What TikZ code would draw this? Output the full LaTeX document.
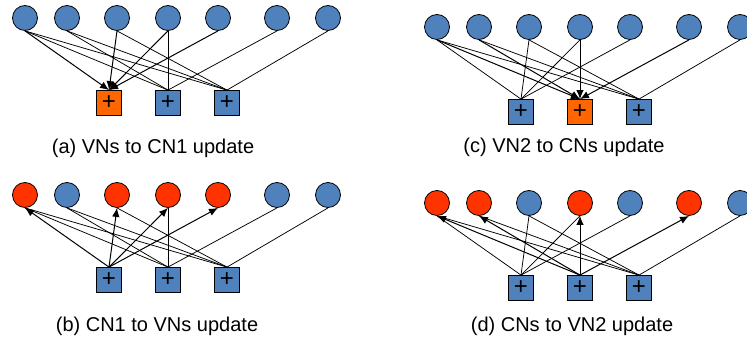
\documentclass[tikz,border=0pt]{standalone}
\usepackage{fontspec}
\setmainfont{Liberation Sans}
\usepackage{tikz}
\usetikzlibrary{arrows.meta, positioning}

\definecolor{vnblue}{HTML}{4F81BD}
\definecolor{cnorange}{HTML}{FF6600}
\definecolor{vnred}{HTML}{FF3300}

\tikzset{
  vn/.style={circle, draw=black, line width=0.8pt, fill=vnblue, minimum size=25pt, inner sep=0pt},
  cn/.style={rectangle, draw=black, line width=0.8pt, fill=vnblue, minimum size=25pt, inner sep=0pt,
    font=\fontsize{24}{24}\selectfont},
  link/.style={line width=0.75pt},
  msg/.style={line width=1pt, -{Latex[length=9pt,width=7.5pt]}},
  caption/.style={font=\fontsize{20}{23}\selectfont}
}

\begin{document}
\begin{tikzpicture}[x=1pt, y=-1pt]
\useasboundingbox (0,0) rectangle (747,342);

% (a) VNs to CN1 update
\begin{scope}
\foreach \i/\x in {1/25,2/67,3/117,4/168,5/218,6/277,7/328}
    \node[vn] (av\i) at (\x,18) {};
\foreach \j/\x/\c in {1/109/cnorange,2/168/vnblue,3/227/vnblue}
    \node[cn, fill=\c] (ac\j) at (\x,103) {+};
\foreach \v/\c in {1/2,2/2,4/2,6/2,1/3,2/3,3/3,7/3}
    \draw[link] (av\v.south) -- (ac\c.north);
\foreach \v in {1,3,4,5}
    \draw[msg] (av\v.south) -- (ac1.north);
\node[caption] (acap) at (153,148) {(a) VNs to CN1 update};
\end{scope}

% (b) CN1 to VNs update
\begin{scope}[shift={(0,177)}]
\foreach \i/\x/\c in {1/25/vnred,2/67/vnblue,3/117/vnred,4/168/vnred,5/218/vnred,6/277/vnblue,7/328/vnblue}
    \node[vn, fill=\c] (bv\i) at (\x,18) {};
\foreach \j/\x in {1/109,2/168,3/227}
    \node[cn] (bc\j) at (\x,103) {+};
\foreach \v/\c in {1/2,2/2,4/2,6/2,1/3,2/3,3/3,7/3}
    \draw[link] (bc\c.north) -- (bv\v.south);
\foreach \v in {1,3,4,5}
    \draw[msg] (bc1.north) -- (bv\v.south);
\node[caption] (bcap) at (157,149) {(b) CN1 to VNs update};
\end{scope}

% (c) VN2 to CNs update
\begin{scope}[shift={(412,9)}]
\foreach \i/\x in {1/25,2/67,3/117,4/168,5/218,6/277,7/328}
    \node[vn] (cv\i) at (\x,18) {};
\foreach \j/\x/\c in {1/109/vnblue,2/168/cnorange,3/227/vnblue}
    \node[cn, fill=\c] (cc\j) at (\x,103) {+};
\foreach \v/\c in {1/1,3/1,4/1,5/1,1/3,2/3,3/3,7/3}
    \draw[link] (cv\v.south) -- (cc\c.north);
\foreach \v in {1,2,4,6}
    \draw[msg] (cv\v.south) -- (cc2.north);
\node[caption] (ccap) at (152,138) {(c) VN2 to CNs update};
\end{scope}

% (d) CNs to VN2 update
\begin{scope}[shift={(412,185)}]
\foreach \i/\x/\c in {1/25/vnred,2/67/vnred,3/117/vnblue,4/168/vnred,5/218/vnblue,6/277/vnred,7/328/vnblue}
    \node[vn, fill=\c] (dv\i) at (\x,18) {};
\foreach \j/\x in {1/109,2/168,3/227}
    \node[cn] (dc\j) at (\x,103) {+};
\foreach \v/\c in {1/1,3/1,4/1,5/1,1/3,2/3,3/3,7/3}
    \draw[link] (dc\c.north) -- (dv\v.south);
\foreach \v in {1,2,4,6}
    \draw[msg] (dc2.north) -- (dv\v.south);
\node[caption] (dcap) at (160,141) {(d) CNs to VN2 update};
\end{scope}
\end{tikzpicture}
\end{document}
